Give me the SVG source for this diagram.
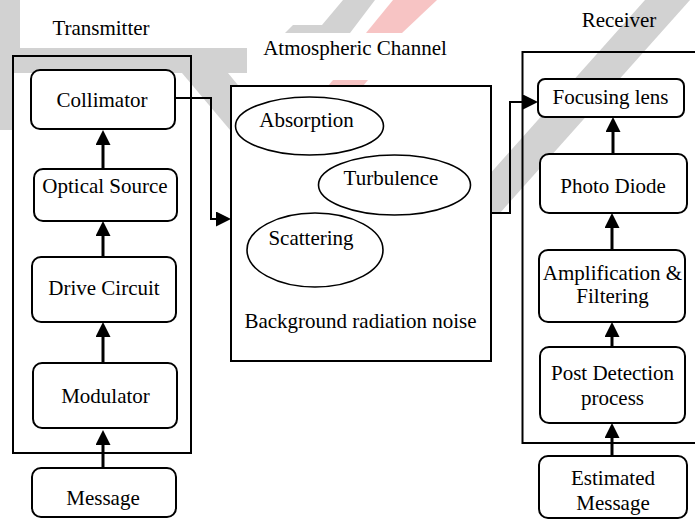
<svg xmlns="http://www.w3.org/2000/svg" width="695" height="520" viewBox="0 0 695 520">
<style>
text{font-family:"Liberation Serif","Times New Roman",serif;font-size:21px;fill:#000;text-anchor:middle}
.frame{fill:none;stroke:#000;stroke-width:2}
.chan{fill:#fff;stroke:#000;stroke-width:2}
.node{fill:#fff;stroke:#000;stroke-width:2}
.ell{fill:none;stroke:#000;stroke-width:1.6}
.thin{fill:none;stroke:#000;stroke-width:2}
.thick{fill:none;stroke:#000;stroke-width:3}
.wg{fill:#d2d2d2}
.wr{fill:#f7c4c4}
</style>
<defs>
<marker id="ah" viewBox="0 0 15 15" refX="0" refY="7.5" markerWidth="15" markerHeight="15" markerUnits="userSpaceOnUse" orient="auto">
<path d="M0,0 L15,7.5 L0,15 z" fill="#000"/>
</marker>
</defs>
<rect width="695" height="520" fill="#fff"/>
<g id="watermark">
<polygon class="wg" points="11,0 20,0 20,48 0,48 0,0"/>
<rect class="wg" x="0" y="48" width="247" height="25"/>
<rect class="wg" x="0" y="73" width="13" height="57"/>
<polygon class="wg" points="182,73 228,73 275,130 230,130"/>
<polygon class="wg" points="343,0 375,0 350,33 285,33 293,25 322,25"/>
<polygon class="wr" points="393,0 437,0 402,33 366,33"/>
<polygon class="wr" points="333,80 368,80 363,86 328,86"/>
<polygon class="wg" points="645,0 690,0 500,213 455,213"/>
</g>
<g id="frames">
<rect class="frame" x="13" y="56" width="178" height="397"/>
<rect class="frame" x="522.5" y="52" width="180" height="391"/>
</g>
<g id="labels">
<text x="101" y="35">Transmitter</text>
<text x="355" y="55">Atmospheric Channel</text>
<text x="619" y="27">Receiver</text>
</g>
<g id="channel">
<rect class="chan" x="231" y="86" width="260" height="275"/>
<text x="360.5" y="328">Background radiation noise</text>
</g>
<g id="absorption">
<ellipse class="ell" cx="309.5" cy="126" rx="74" ry="29"/>
<text x="306.5" y="127">Absorption</text>
</g>
<g id="turbulence">
<ellipse class="ell" cx="394.5" cy="185" rx="76" ry="30"/>
<text x="391" y="185">Turbulence</text>
</g>
<g id="scattering">
<ellipse class="ell" cx="315" cy="250" rx="68" ry="37"/>
<text x="311" y="245">Scattering</text>
</g>
<g id="collimator">
<rect class="node" x="31" y="70" width="144" height="59" rx="9"/>
<text x="102" y="107">Collimator</text>
</g>
<g id="optical-source">
<rect class="node" x="34" y="169" width="143" height="52" rx="9"/>
<text x="105" y="193">Optical Source</text>
</g>
<g id="drive-circuit">
<rect class="node" x="32" y="257" width="144" height="65" rx="9"/>
<text x="104" y="295">Drive Circuit</text>
</g>
<g id="modulator">
<rect class="node" x="33" y="363" width="144" height="65" rx="9"/>
<text x="105.5" y="403">Modulator</text>
</g>
<g id="message">
<rect class="node" x="32" y="468" width="144" height="49" rx="9"/>
<text x="103" y="505">Message</text>
</g>
<g id="focusing-lens">
<rect class="node" x="538" y="79" width="146" height="38" rx="7"/>
<text x="610.5" y="104">Focusing lens</text>
</g>
<g id="photo-diode">
<rect class="node" x="540" y="154" width="147" height="59" rx="9"/>
<text x="613" y="193">Photo Diode</text>
</g>
<g id="amplification">
<rect class="node" x="539" y="250" width="146" height="72" rx="9"/>
<text x="612.5" y="280">Amplification &amp;</text>
<text x="612.5" y="303">Filtering</text>
</g>
<g id="post-detection">
<rect class="node" x="540" y="347" width="145" height="76" rx="9"/>
<text x="612.5" y="380">Post Detection</text>
<text x="612.5" y="405">process</text>
</g>
<g id="estimated-message">
<rect class="node" x="539" y="456" width="148" height="62" rx="9"/>
<text x="613" y="485">Estimated</text>
<text x="613" y="510">Message</text>
</g>
<g id="connectors">
<path class="thick" d="M103,169 V145" marker-end="url(#ah)"/>
<path class="thick" d="M103,257 V236" marker-end="url(#ah)"/>
<path class="thick" d="M103,363 V337" marker-end="url(#ah)"/>
<path class="thick" d="M103,468 V445" marker-end="url(#ah)"/>
<path class="thin" d="M175,98 H211 V219 H216" marker-end="url(#ah)"/>
<path class="thin" d="M491,213 H510 V102 H523" marker-end="url(#ah)"/>
<path class="thick" d="M613,154 V132" marker-end="url(#ah)"/>
<path class="thick" d="M612,250 V228" marker-end="url(#ah)"/>
<path class="thick" d="M612,347 V337" marker-end="url(#ah)"/>
<path class="thick" d="M612,456 V438" marker-end="url(#ah)"/>
</g>
</svg>
